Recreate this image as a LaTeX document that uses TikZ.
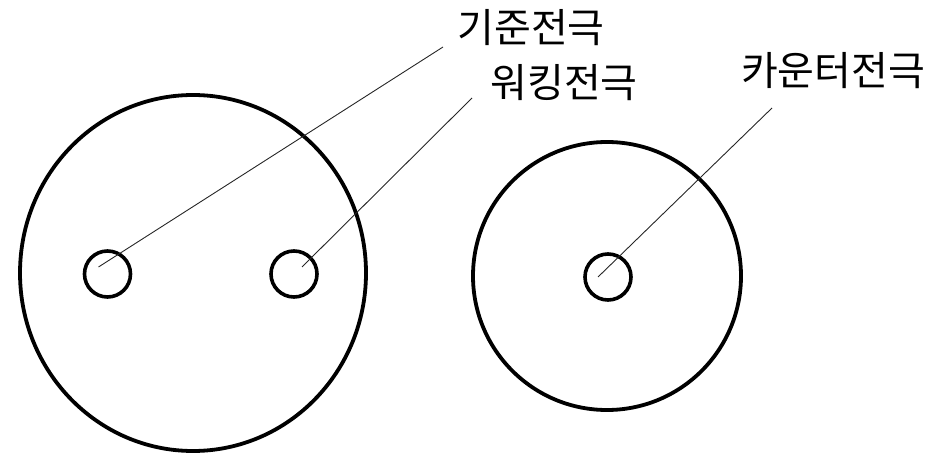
\documentclass[tikz,border=0pt]{standalone}
\usepackage{fontspec}
\newfontfamily\krfont{Noto Sans CJK KR}
\usetikzlibrary{shapes.geometric, positioning, calc}

\begin{document}
\begin{tikzpicture}[
  x=1pt, y=-1pt,
  every node/.style={font=\krfont\fontsize{40}{44}\selectfont},
  disc/.style={ellipse, draw=black, line width=3.8pt, inner sep=0pt,
               minimum width=#1, minimum height=#1},
  pin/.style={circle, draw=black, line width=3.6pt, inner sep=0pt,
              minimum size=46pt},
  lead/.style={line width=0.9pt, black!85},
  tag/.style={inner sep=0pt, anchor=center}
]
  \useasboundingbox (0,0) rectangle (942,457);
  % cells
  \node[disc=346pt, minimum height=356pt] (body) at (193,273) {};
  \node[disc=268pt] (body2) at (607,276) {};
  \node[pin] (ref) at (107.5,274) {};
  \node[pin] (work) at (294,274) {};
  \node[pin] (count) at (608,277) {};
  % labels
  \node[tag] (refl) at (531,28) {기준전극};
  \node[tag] (workl) at (564,83) {워킹전극};
  \node[tag] (countl) at (833,71) {카운터전극};
  \coordinate (refend) at (443,47);
  \coordinate (workend) at (472,98);
  \coordinate (countend) at (772,108);
  \draw[lead] ($(ref)+(-9,-7)$) -- (refend);
  \draw[lead] ($(work)+(8,-7)$) -- (workend);
  \draw[lead] ($(count)+(-10,0)$) -- (countend);
\end{tikzpicture}
\end{document}
